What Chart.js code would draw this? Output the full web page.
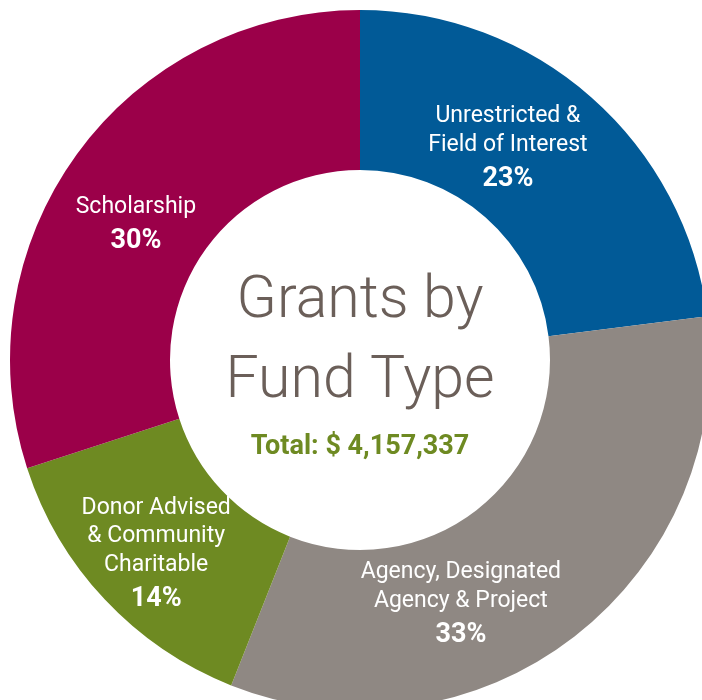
<!DOCTYPE html>
<html>
<head>
<meta charset="utf-8">
<script src="https://cdn.jsdelivr.net/npm/chart.js@4.4.0/dist/chart.umd.min.js"></script>
<style>
  html, body { margin: 0; padding: 0; background: #fff; overflow: hidden; }
  #wrap { position: absolute; left: 0; top: 0; width: 720px; height: 720px; }
</style>
</head>
<body>
<div id="wrap"><canvas id="myChart"></canvas></div>
<script>
// fund types, clockwise from 12 o'clock
var fundLabels = [
    ["Unrestricted &", "Field of Interest"],
    ["Agency, Designated", "Agency & Project"],
    ["Donor Advised", "& Community", "Charitable"],
    ["Scholarship"]
];
var fundShares = [23, 33, 14, 30];
var fundColors = ["#015a97", "#8f8883", "#6e8a22", "#9b0049"];

var titleLines = ["Grants by", "Fund Type"];
var totalText = "Total: $ 4,157,337";

// where each label sits: shift off the slice middle (deg) and distance from centre
var labelShift = [-6.5, 15.3, -0.3, -4.8];
var labelRadius = [258.5, 263.6, 281, 262];

var sliceLabels = {
    id: 'sliceLabels',
    afterDatasetsDraw(chart) {
        let ctx = chart.ctx;
        let meta = chart.getDatasetMeta(0);
        let lh = 28.5, gap = 34;
        ctx.save();
        ctx.fillStyle = "#ffffff";
        ctx.textAlign = "center";
        ctx.textBaseline = "middle";
        meta.data.forEach(function(arc, i) {
            let mid = (arc.startAngle + arc.endAngle) / 2 + labelShift[i] * Math.PI / 180;
            let x = arc.x + Math.cos(mid) * labelRadius[i];
            let y = arc.y + Math.sin(mid) * labelRadius[i];
            let lines = fundLabels[i];
            let h = (lines.length - 1) * lh + gap;
            let top = y - h / 2;
            ctx.font = "400 23px Roboto";
            lines.forEach(function(t, j) {
                ctx.fillText(t, x, top + j * lh);
            });
            ctx.font = "700 27px Roboto";
            ctx.fillText(fundShares[i] + "%", x, top + h);
        });

        // centre title
        let cx = meta.data[0].x, cy = meta.data[0].y;
        ctx.textBaseline = "alphabetic";
        ctx.fillStyle = "#6b5f59";
        ctx.font = "300 59px Roboto";
        ctx.fillText(titleLines[0], cx, cy - 43);
        ctx.fillText(titleLines[1], cx, cy + 37);
        ctx.fillStyle = "#6e8a22";
        ctx.font = "700 27px Roboto";
        ctx.fillText(totalText, cx, cy + 94);
        ctx.restore();
    }
};

let ctx = document.getElementById('myChart').getContext('2d');
let myChart = new Chart(ctx, {
    type: 'doughnut',
    data: {
        labels: fundLabels.map(function(l) { return l.join(" "); }),
        datasets: [{
            data: fundShares,
            backgroundColor: fundColors,
            borderWidth: 0,
            hoverOffset: 0
        }]
    },
    options: {
        responsive: true,
        maintainAspectRatio: false,
        animation: false,
        cutout: 190,
        layout: { padding: 10 },
        plugins: {
            legend: { display: false },
            tooltip: { enabled: false }
        }
    },
    plugins: [sliceLabels]
});
</script>
</body>
</html>
